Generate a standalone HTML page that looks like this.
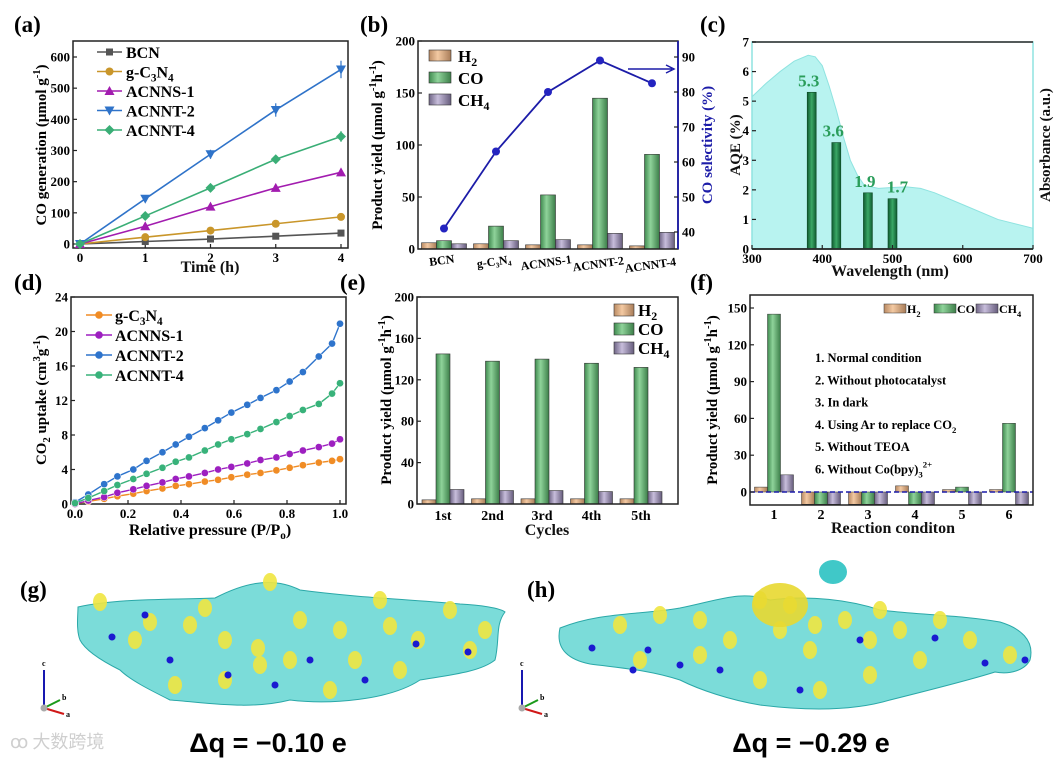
<!DOCTYPE html>
<html><head><meta charset="utf-8">
<style>
html,body{margin:0;padding:0;background:#fff;}
svg{display:block;font-family:"Liberation Serif","Noto Serif CJK SC",serif;font-weight:bold;}
</style></head>
<body>
<svg id="fig" width="1057" height="760" viewBox="0 0 1057 760" xmlns="http://www.w3.org/2000/svg">
<defs>
<linearGradient id="gH" x1="0" x2="1"><stop offset="0" stop-color="#b98a63"/><stop offset="0.4" stop-color="#f3c9a2"/><stop offset="1" stop-color="#a87c58"/></linearGradient>
<linearGradient id="gC" x1="0" x2="1"><stop offset="0" stop-color="#3f8a4f"/><stop offset="0.4" stop-color="#8fd39a"/><stop offset="1" stop-color="#3c7e49"/></linearGradient>
<linearGradient id="gM" x1="0" x2="1"><stop offset="0" stop-color="#6f6585"/><stop offset="0.4" stop-color="#c7bddb"/><stop offset="1" stop-color="#665c7c"/></linearGradient>
<linearGradient id="gA" x1="0" x2="1"><stop offset="0" stop-color="#0f5a30"/><stop offset="0.5" stop-color="#3aa866"/><stop offset="1" stop-color="#0f5a30"/></linearGradient>
</defs>
<g id="root"></g>
<text x="268" y="752" font-size="27" text-anchor="middle" font-family="'Liberation Sans',sans-serif" font-weight="bold">Δq = −0.10 e</text>
<text x="811" y="752" font-size="27" text-anchor="middle" font-family="'Liberation Sans',sans-serif" font-weight="bold">Δq = −0.29 e</text>
<text x="10" y="748" font-size="18" fill="#cfcfcf" font-family="'Noto Sans CJK SC',sans-serif" font-weight="normal">ꝏ 大数跨境</text>
</svg>
<script>
// ---------- data ----------
const timeH = [0,1,2,3,4];
const coBCN = [0,8,16,25,35];
const coGCN = [0,22,43,65,87];
const coNS1 = [0,57,120,180,230];
const coNT2 = [0,145,288,430,560];
const coNT4 = [0,90,180,272,345];
const catsB = ["BCN","g-C₃N₄","ACNNS-1","ACNNT-2","ACNNT-4"];
const h2B = [6,5,4,4,3];
const coB = [8,22,52,145,91];
const ch4B = [5,8,9,15,16];
const selB = [41,63,80,89,82.5];
const wlC = [385,420,465,500];
const aqeC = [5.3,3.6,1.9,1.7];
const absWl = [300,320,340,360,380,390,400,410,420,430,440,450,460,480,500,520,540,560,600,650,700];
const absV = [5.15,5.6,6.0,6.35,6.55,6.5,6.2,5.5,4.7,3.8,3.0,2.5,2.15,2.05,2.08,2.1,2.05,1.9,1.5,1.0,0.7];
const pD = [0,0.05,0.11,0.16,0.22,0.27,0.33,0.38,0.43,0.49,0.54,0.59,0.65,0.70,0.76,0.81,0.86,0.92,0.97,1.0];
const upNT2 = [0.2,1.1,2.3,3.2,4.0,5.0,6.0,6.9,7.8,8.8,9.7,10.6,11.5,12.3,13.2,14.2,15.3,17.1,18.6,20.9];
const upNT4 = [0.1,0.7,1.5,2.2,2.9,3.5,4.2,4.9,5.4,6.2,6.9,7.5,8.1,8.7,9.5,10.2,10.9,11.6,12.8,14.0];
const upNS1 = [0,0.4,0.8,1.3,1.7,2.1,2.5,2.9,3.2,3.6,4.0,4.3,4.7,5.1,5.4,5.8,6.2,6.6,7.0,7.5];
const upGCN = [0,0.3,0.6,0.9,1.2,1.5,1.8,2.1,2.3,2.6,2.8,3.1,3.4,3.6,3.9,4.2,4.5,4.8,5.0,5.2];
const cycE = ["1st","2nd","3rd","4th","5th"];
const h2E = [4,5,5,5,5];
const coE = [145,138,140,136,132];
const ch4E = [14,13,13,12,12];
const catF = ["1","2","3","4","5","6"];
const h2F = [4,-10,-10,5,2,2];
const coF = [145,-10,-10,-10,4,56];
const ch4F = [14,-10,-10,-10,-10,-10];
const ticksA = [0,100,200,300,400,500,600];
const ticksB = [0,50,100,150,200];
const ticksBR = [40,50,60,70,80,90];
const ticksC = [0,1,2,3,4,5,6,7];
const ticksCX = [300,400,500,600,700];
const ticksD = [0,4,8,12,16,20,24];
const ticksDX = [0,0.2,0.4,0.6,0.8,1.0];
const ticksE = [0,40,80,120,160,200];
const ticksF = [0,30,60,90,120,150];

const NS="http://www.w3.org/2000/svg";
const root=document.getElementById('root');
function mk(tag,attrs,parent){const e=document.createElementNS(NS,tag);for(const k in attrs)e.setAttribute(k,attrs[k]);(parent||root).appendChild(e);return e;}
function txt(s,attrs,parent){const e=mk('text',attrs,parent);e.textContent=s;return e;}

function frame(x0,y0,x1,y1,name,stroke){
  const r=mk('rect',{x:x0,y:y0,width:x1-x0,height:y1-y0,fill:'none',stroke:stroke||'#222','stroke-width':1.5});
  
  
}
function yTicks(vals,Y,x,name,side,fs){
  vals.forEach(v=>{
    const y=Y(v);
    const d=side==='r'?-4:4;
    const l=mk('line',{x1:x,x2:x+d,y1:y,y2:y,stroke:'#222','stroke-width':1.2});
    
    
    const t=txt(String(v),{x:side==='r'?x+4:x-3,y:y+4.5,'font-size':fs||13,'text-anchor':side==='r'?'start':'end'});
    
    
  });
}
function xTicks(vals,X,y,name,fmt){
  vals.forEach(v=>{
    const x=X(v);
    const l=mk('line',{x1:x,x2:x,y1:y,y2:y-4,stroke:'#222','stroke-width':1.2});
    
    
    const t=txt(fmt?fmt(v):String(v),{x:x,y:y+14,'font-size':13,'text-anchor':'middle'});
    
    
  });
}
function label(s,x,y,name,fs,rot,fill){
  const t=txt(s,{x:x,y:y,'font-size':fs,'text-anchor':'middle',fill:fill||'#111'});
  if(rot)t.setAttribute('transform',`rotate(${rot} ${x} ${y})`);
  
  
  return t;
}
function panelLabel(s,x,y){const t=txt(s,{x:x,y:y,'font-size':23});
  
  }
function mtext(parts,attrs,name){
  const t=mk('text',attrs);
  let prev=null;
  parts.forEach(p=>{const ts=document.createElementNS(NS,'tspan');ts.textContent=p[0];
    let dy=0;
    if(p[1]==='sub'){ts.setAttribute('font-size','70%');dy=4;}
    if(p[1]==='sup'){ts.setAttribute('font-size','70%');dy=-6;}
    const back=prev==='sub'?-4:prev==='sup'?6:0;
    ts.setAttribute('dy',dy+back);t.appendChild(ts);prev=p[1];});
  
  
  return t;
}
function marker(shape,x,y,c){
  let e;
  if(shape==='sq')e=mk('rect',{x:x-3.5,y:y-3.5,width:7,height:7,fill:c});
  else if(shape==='ci')e=mk('circle',{cx:x,cy:y,r:4,fill:c});
  else if(shape==='tu')e=mk('path',{d:`M${x},${y-5}L${x+5},${y+4}L${x-5},${y+4}Z`,fill:c});
  else if(shape==='td')e=mk('path',{d:`M${x},${y+5}L${x+5},${y-4}L${x-5},${y-4}Z`,fill:c});
  else e=mk('path',{d:`M${x},${y-5}L${x+5},${y}L${x},${y+5}L${x-5},${y}Z`,fill:c});
  return e;
}

// ========== Panel (a) ==========
panelLabel('(a)',14,32);
const XA=t=>80+t*(341-80)/4, YA=v=>244-v*(244-57)/600;
frame(73,41,348,248,'panel-a-frame');
yTicks(ticksA,YA,73,'a-y');
xTicks(timeH,XA,248,'a-x');
const serA=[[coBCN,'#555555','sq','BCN'],[coGCN,'#c9962a','ci','g-C3N4'],[coNS1,'#a21caf','tu','ACNNS-1'],[coNT2,'#2f73c9','td','ACNNT-2'],[coNT4,'#3aae76','di','ACNNT-4']];
serA.forEach(([d,c,sh,n])=>{
  const pl=mk('polyline',{points:d.map((v,i)=>XA(timeH[i])+','+YA(v)).join(' '),fill:'none',stroke:c,'stroke-width':1.6});
  
  
  d.forEach((v,i)=>{
    if(i>0&&v>50){const eb=mk('line',{x1:XA(timeH[i]),x2:XA(timeH[i]),y1:YA(v*1.05),y2:YA(v*0.95),stroke:c,'stroke-width':1.2});
      
      }
    const m=marker(sh,XA(timeH[i]),YA(v),c);
    
    
  });
});
serA.forEach(([d,c,sh,n],i)=>{
  const y=52+i*19.5;
  const l=mk('line',{x1:97,x2:122,y1:y,y2:y,stroke:c,'stroke-width':1.6});
  
  
  const m=marker(sh,109.5,y,c);
  
  
  const parts=i===1?[['g-C',null],['3','sub'],['N',null],['4','sub']]:[[n,null]];
  mtext(parts,{x:126,y:y+6,'font-size':16},'a-legend-entry-'+n);
});
mtext([['CO generation (μmol g',null],['-1','sup'],[')',null]],{x:0,y:0,'font-size':15,'text-anchor':'middle',transform:'translate(46,145) rotate(-90)'},'a-y-axis-title');
label('Time (h)',210,272,'a-x-axis-title',16);

// ========== Panel (b) ==========
panelLabel('(b)',360,32);
const YB=v=>249-v*(208/200), YBR=s=>232-(s-40)*3.5, XB=i=>444+i*52;
const bw=15;
[[h2B,'url(#gH)',-22.5,'h2'],[coB,'url(#gC)',-7.5,'co'],[ch4B,'url(#gM)',7.5,'ch4']].forEach(([d,f,o,n])=>{
  d.forEach((v,i)=>{const r=mk('rect',{x:XB(i)+o,y:YB(v),width:bw,height:YB(0)-YB(v),fill:f,stroke:'#333','stroke-width':0.6});
    
    });
});
const plB=mk('polyline',{points:selB.map((s,i)=>XB(i)+','+YBR(s)).join(' '),fill:'none',stroke:'#1c1ca8','stroke-width':1.8});


selB.forEach((s,i)=>{const c=mk('circle',{cx:XB(i),cy:YBR(s),r:4,fill:'#2424c0'});
  
  });
const arB=mk('path',{d:'M628,69L672,69M666,65L674,69L666,73',fill:'none',stroke:'#1c1ca8','stroke-width':1.5});


frame(418,41,678,249,'panel-b-frame');
const rAx=mk('line',{x1:678,x2:678,y1:41,y2:249,stroke:'#1c1ca8','stroke-width':1.8});


yTicks(ticksB,YB,418,'b-y');
yTicks(ticksBR,YBR,678,'b-y2','r');
catsB.forEach((c,i)=>{const t=txt(c,{x:XB(i)-2,y:264+i*1.2,'font-size':12,'text-anchor':'middle',transform:`rotate(-8 ${XB(i)} 262)`});
  
  });
[['url(#gH)',[['H',null],['2','sub']]],['url(#gC)',[['CO',null]]],['url(#gM)',[['CH',null],['4','sub']]]].forEach(([f,p],i)=>{
  const y=50+i*22;
  const r=mk('rect',{x:429,y:y,width:22,height:11,fill:f,stroke:'#333','stroke-width':0.6});
  
  
  mtext(p,{x:458,y:y+12,'font-size':17},'b-legend-entry');
});
mtext([['Product yield (μmol g',null],['-1','sup'],['h',null],['-1','sup'],[')',null]],{x:0,y:0,'font-size':15,'text-anchor':'middle',transform:'translate(382,145) rotate(-90)'},'b-y-axis-title');
label('CO selectivity (%)',712,145,'b-y2-axis-title',15,-90,'#1c1ca8');

// ========== Panel (c) ==========
panelLabel('(c)',700,32);
const XC=w=>752+(w-300)*(281/400), YC=v=>249-v*(207/7);
const areaPts=absWl.map((w,i)=>XC(w)+','+YC(absV[i])).join(' ');
const ar=mk('polygon',{points:`${XC(300)},${YC(0)} ${areaPts} ${XC(700)},${YC(0)}`,fill:'#b8f3f0',stroke:'#8fe3e0','stroke-width':1});


wlC.forEach((w,i)=>{
  const r=mk('rect',{x:XC(w)-4.5,y:YC(aqeC[i]),width:9,height:YC(0)-YC(aqeC[i]),fill:'url(#gA)',stroke:'#0d4a26','stroke-width':0.6});
  
  
  const t=txt(aqeC[i].toFixed(1),{x:XC(w)+(i===3?5:-3),y:YC(aqeC[i])-6,'font-size':17,'text-anchor':'middle',fill:'#2a9d5a'});
  
  
});
frame(752,42,1033,249,'panel-c-frame','#8fe3e0');
const topC=mk('line',{x1:752,x2:1033,y1:42,y2:42,stroke:'#444','stroke-width':1.8});


const botC=mk('line',{x1:752,x2:1033,y1:249,y2:249,stroke:'#222','stroke-width':1.8});


yTicks(ticksC,YC,752,'c-y');
xTicks(ticksCX,XC,249,'c-x');
label('AQE (%)',740,145,'c-y-axis-title',15,-90);
label('Absorbance (a.u.)',1050,145,'c-y2-axis-title',15,-90);
label('Wavelength (nm)',890,276,'c-x-axis-title',16);

// ========== Panel (d) ==========
panelLabel('(d)',14,290);
const XD=p=>75+p*265, YD=v=>504-v*(207/24);
frame(71,297,346,504,'panel-d-frame');
yTicks(ticksD,YD,71,'d-y');
xTicks(ticksDX,XD,504,'d-x',v=>v.toFixed(1));
const serD=[[upGCN,'#f08c25','g-C3N4'],[upNS1,'#9d1fc0','ACNNS-1'],[upNT2,'#2e74cc','ACNNT-2'],[upNT4,'#38b27a','ACNNT-4']];
serD.forEach(([d,c,n])=>{
  const pl=mk('polyline',{points:d.map((v,i)=>XD(pD[i])+','+YD(v)).join(' '),fill:'none',stroke:c,'stroke-width':1.4});
  
  
  d.forEach((v,i)=>{const m=mk('circle',{cx:XD(pD[i]),cy:YD(v),r:3.6,fill:c,stroke:'#fff','stroke-width':0.5});
    
    });
});
serD.forEach(([d,c,n],i)=>{
  const y=315+i*20;
  const l=mk('line',{x1:86,x2:112,y1:y,y2:y,stroke:c,'stroke-width':1.5});
  
  
  const m=mk('circle',{cx:99,cy:y,r:3.8,fill:c});
  
  
  const parts=i===0?[['g-C',null],['3','sub'],['N',null],['4','sub']]:[[n,null]];
  mtext(parts,{x:115,y:y+6,'font-size':16},'d-legend-entry-'+n);
});
mtext([['CO',null],['2','sub'],[' uptake (cm',null],['3','sup'],['g',null],['-1','sup'],[')',null]],{x:0,y:0,'font-size':15,'text-anchor':'middle',transform:'translate(46,400) rotate(-90)'},'d-y-axis-title');
mtext([['Relative pressure (P/P',null],['o','sub'],[')',null]],{x:210,y:535,'font-size':16,'text-anchor':'middle'},'d-x-axis-title');

// ========== Panel (e) ==========
panelLabel('(e)',340,290);
const XE=i=>443+i*49.5, YE=v=>504-v*(207/200);
[[h2E,'url(#gH)',-21,'h2'],[coE,'url(#gC)',-7,'co'],[ch4E,'url(#gM)',7,'ch4']].forEach(([d,f,o,n])=>{
  d.forEach((v,i)=>{const r=mk('rect',{x:XE(i)+o,y:YE(v),width:14,height:YE(0)-YE(v),fill:f,stroke:'#333','stroke-width':0.6});
    
    });
});
frame(417,297,678,504,'panel-e-frame');
yTicks(ticksE,YE,417,'e-y');
cycE.forEach((c,i)=>{const t=txt(c,{x:XE(i),y:520,'font-size':14,'text-anchor':'middle'});
  
  });
[['url(#gH)',[['H',null],['2','sub']]],['url(#gC)',[['CO',null]]],['url(#gM)',[['CH',null],['4','sub']]]].forEach(([f,p],i)=>{
  const y=304+i*19;
  const r=mk('rect',{x:614,y:y,width:20,height:12,fill:f,stroke:'#333','stroke-width':0.6});
  
  
  mtext(p,{x:638,y:y+12,'font-size':17},'e-legend-entry');
});
mtext([['Product yield (μmol g',null],['-1','sup'],['h',null],['-1','sup'],[')',null]],{x:0,y:0,'font-size':15,'text-anchor':'middle',transform:'translate(391,400) rotate(-90)'},'e-y-axis-title');
label('Cycles',547,535,'e-x-axis-title',16);

// ========== Panel (f) ==========
panelLabel('(f)',690,290);
const XF=i=>774+i*47, YF=v=>492-v*(184/150);
[[h2F,'url(#gH)',-19.5,'h2'],[coF,'url(#gC)',-6.5,'co'],[ch4F,'url(#gM)',6.5,'ch4']].forEach(([d,f,o,n])=>{
  d.forEach((v,i)=>{const y0=Math.min(YF(v),YF(0)),h=Math.abs(YF(v)-YF(0));
    const r=mk('rect',{x:XF(i)+o,y:y0,width:13,height:h,fill:f,stroke:'#333','stroke-width':0.5});
    
    });
});
const dz=mk('line',{x1:750,x2:1033,y1:YF(0),y2:YF(0),stroke:'#1c1ca8','stroke-width':1.5,'stroke-dasharray':'5 3'});


frame(750,295,1033,505,'panel-f-frame');
yTicks(ticksF,YF,750,'f-y');
catF.forEach((c,i)=>{const t=txt(c,{x:XF(i),y:519,'font-size':14,'text-anchor':'middle'});
  
  });
[['url(#gH)',[['H',null],['2','sub']],884],['url(#gC)',[['CO',null]],934],['url(#gM)',[['CH',null],['4','sub']],976]].forEach(([f,p,x],i)=>{
  const r=mk('rect',{x:x,y:304,width:22,height:9,fill:f,stroke:'#333','stroke-width':0.5});
  
  
  mtext(p,{x:x+23,y:313,'font-size':12},'f-legend-entry');
});
const condF=[[['1. Normal condition',null]],[['2. Without photocatalyst',null]],[['3. In dark',null]],[['4. Using Ar to replace CO',null],['2','sub']],[['5. Without TEOA',null]],[['6. Without Co(bpy)',null],['3','sub'],['2+','sup']]];
condF.forEach((p,i)=>mtext(p,{x:815,y:362+i*22.3,'font-size':12.5},'f-condition-'+(i+1)));
mtext([['Product yield (μmol g',null],['-1','sup'],['h',null],['-1','sup'],[')',null]],{x:0,y:0,'font-size':15,'text-anchor':'middle',transform:'translate(717,400) rotate(-90)'},'f-y-axis-title');
label('Reaction conditon',893,533,'f-x-axis-title',16);

// ========== Panels (g) (h) charge density renders ==========
panelLabel('(g)',20,597);
panelLabel('(h)',527,597);
function blob(d,name){const p=mk('path',{d:d,fill:'#4fd0cc','fill-opacity':0.75,stroke:'#2aa8a8','stroke-width':1});
  
  }
blob('M78,607 C120,598 170,600 215,598 C240,585 270,575 300,590 C360,598 420,600 460,604 C480,605 500,608 505,612 C495,625 500,640 495,660 C480,672 450,675 420,680 C390,700 330,705 290,700 C250,710 210,703 170,700 C150,690 130,680 120,670 C100,660 85,650 80,640 C76,630 78,615 78,607Z','g-density-surface');
blob('M560,628 C600,612 640,615 680,608 C720,600 740,590 770,600 C810,595 850,600 880,610 C920,615 960,615 1000,622 C1020,628 1035,640 1030,660 C1025,670 1010,675 995,672 C970,680 930,690 890,700 C850,712 800,710 760,705 C730,700 700,690 680,680 C650,670 620,668 590,664 C570,660 555,650 560,628Z','h-density-surface');
const yg=[[100,602],[150,622],[190,625],[225,640],[258,648],[300,620],[290,660],[340,630],[355,660],[390,626],[418,640],[450,610],[470,650],[175,685],[260,665],[330,690],[225,680],[135,640],[380,600],[270,582],[485,630],[400,670],[205,608]];
yg.forEach(([x,y])=>{const e=mk('ellipse',{cx:x,cy:y,rx:7,ry:9,fill:'#f0e640','fill-opacity':0.9});
  
  });
const bg=[[112,637],[170,660],[310,660],[228,675],[365,680],[275,685],[416,644],[468,652],[145,615]];
bg.forEach(([x,y])=>{const e=mk('circle',{cx:x,cy:y,r:3.5,fill:'#1a1ad0'});
  
  });
const yh=[[620,625],[660,615],[700,620],[760,600],[790,605],[780,630],[815,625],[810,650],[845,620],[870,640],[900,630],[940,620],[970,640],[1010,655],[640,660],[700,655],[760,680],[820,690],[870,675],[920,660],[730,640],[880,610]];
yh.forEach(([x,y])=>{const e=mk('ellipse',{cx:x,cy:y,rx:7,ry:9,fill:'#f0e640','fill-opacity':0.9});
  
  });
const yh2=mk('ellipse',{cx:780,cy:605,rx:28,ry:22,fill:'#e8d830','fill-opacity':0.9});


const mh=mk('ellipse',{cx:833,cy:572,rx:14,ry:12,fill:'#40c8c8'});


const bh=[[592,648],[648,650],[680,665],[720,670],[800,690],[860,640],[935,638],[985,663],[1025,660],[633,670]];
bh.forEach(([x,y])=>{const e=mk('circle',{cx:x,cy:y,r:3.5,fill:'#1a1ad0'});
  
  });
function axes3d(x,y,n){
  const g=mk('g',{});
  
  
  mk('line',{x1:x,x2:x,y1:y,y2:y-38,stroke:'#1818b0','stroke-width':2},g);
  mk('line',{x1:x,x2:x+16,y1:y,y2:y-8,stroke:'#1a9a1a','stroke-width':2},g);
  mk('line',{x1:x,x2:x+20,y1:y,y2:y+6,stroke:'#d01818','stroke-width':2},g);
  mk('circle',{cx:x,cy:y,r:3.5,fill:'#aaa'},g);
  txt('c',{x:x-2,y:y-42,'font-size':8},g);txt('b',{x:x+18,y:y-8,'font-size':8},g);txt('a',{x:x+22,y:y+9,'font-size':8},g);
}
axes3d(44,708,'g-axes-indicator');
axes3d(522,708,'h-axes-indicator');
</script>
</body></html>
